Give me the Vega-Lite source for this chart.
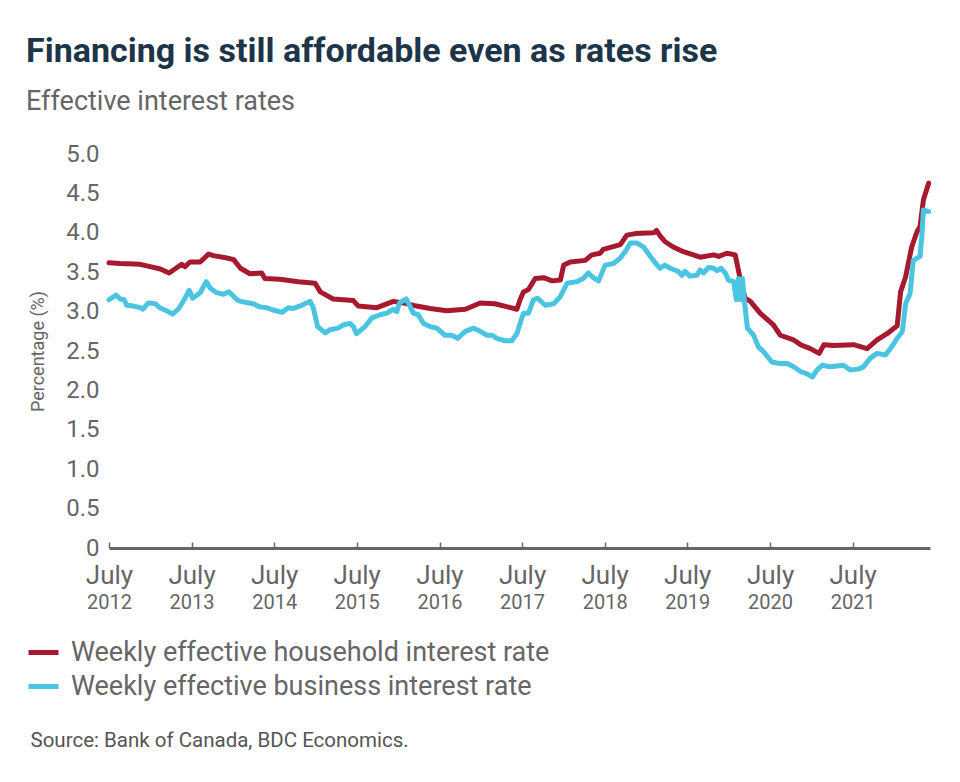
{
  "$schema": "https://vega.github.io/schema/vega-lite/v6.json",
  "width": 821,
  "height": 394,
  "autosize": {"type": "none"},
  "padding": {"left": 109, "top": 154, "right": 30, "bottom": 234},
  "background": "white",
  "config": {"view": {"stroke": null}, "font": "Roboto"},
  "title": {
    "text": "Financing is still affordable even as rates rise",
    "subtitle": "Effective interest rates",
    "anchor": "start",
    "frame": "bounds",
    "font": "Roboto",
    "fontSize": 34,
    "fontWeight": "bold",
    "color": "#1d3549",
    "subtitleFont": "Roboto",
    "subtitleFontSize": 27,
    "subtitleColor": "#666666",
    "subtitlePadding": 20,
    "offset": 27
  },
  "data": {
    "values": [
      {"date": "2012-07-01", "series": "Weekly effective household interest rate", "rate": 3.62},
      {"date": "2012-08-19", "series": "Weekly effective household interest rate", "rate": 3.61},
      {"date": "2012-11-16", "series": "Weekly effective household interest rate", "rate": 3.60},
      {"date": "2012-12-30", "series": "Weekly effective household interest rate", "rate": 3.57},
      {"date": "2013-02-13", "series": "Weekly effective household interest rate", "rate": 3.54},
      {"date": "2013-03-24", "series": "Weekly effective household interest rate", "rate": 3.49},
      {"date": "2013-05-18", "series": "Weekly effective household interest rate", "rate": 3.60},
      {"date": "2013-06-02", "series": "Weekly effective household interest rate", "rate": 3.57},
      {"date": "2013-06-24", "series": "Weekly effective household interest rate", "rate": 3.63},
      {"date": "2013-08-08", "series": "Weekly effective household interest rate", "rate": 3.63},
      {"date": "2013-09-14", "series": "Weekly effective household interest rate", "rate": 3.73},
      {"date": "2013-10-06", "series": "Weekly effective household interest rate", "rate": 3.71},
      {"date": "2013-12-04", "series": "Weekly effective household interest rate", "rate": 3.68},
      {"date": "2014-01-03", "series": "Weekly effective household interest rate", "rate": 3.66},
      {"date": "2014-02-02", "series": "Weekly effective household interest rate", "rate": 3.55},
      {"date": "2014-03-16", "series": "Weekly effective household interest rate", "rate": 3.48},
      {"date": "2014-05-07", "series": "Weekly effective household interest rate", "rate": 3.49},
      {"date": "2014-05-21", "series": "Weekly effective household interest rate", "rate": 3.42},
      {"date": "2014-07-26", "series": "Weekly effective household interest rate", "rate": 3.41},
      {"date": "2014-10-16", "series": "Weekly effective household interest rate", "rate": 3.38},
      {"date": "2014-12-29", "series": "Weekly effective household interest rate", "rate": 3.36},
      {"date": "2015-01-21", "series": "Weekly effective household interest rate", "rate": 3.25},
      {"date": "2015-03-19", "series": "Weekly effective household interest rate", "rate": 3.16},
      {"date": "2015-06-16", "series": "Weekly effective household interest rate", "rate": 3.14},
      {"date": "2015-07-08", "series": "Weekly effective household interest rate", "rate": 3.07},
      {"date": "2015-09-28", "series": "Weekly effective household interest rate", "rate": 3.05},
      {"date": "2015-12-10", "series": "Weekly effective household interest rate", "rate": 3.13},
      {"date": "2016-01-24", "series": "Weekly effective household interest rate", "rate": 3.11},
      {"date": "2016-03-22", "series": "Weekly effective household interest rate", "rate": 3.07},
      {"date": "2016-05-20", "series": "Weekly effective household interest rate", "rate": 3.04},
      {"date": "2016-08-03", "series": "Weekly effective household interest rate", "rate": 3.01},
      {"date": "2016-10-23", "series": "Weekly effective household interest rate", "rate": 3.03},
      {"date": "2016-12-28", "series": "Weekly effective household interest rate", "rate": 3.11},
      {"date": "2017-03-03", "series": "Weekly effective household interest rate", "rate": 3.10},
      {"date": "2017-06-08", "series": "Weekly effective household interest rate", "rate": 3.03},
      {"date": "2017-06-22", "series": "Weekly effective household interest rate", "rate": 3.15},
      {"date": "2017-07-07", "series": "Weekly effective household interest rate", "rate": 3.25},
      {"date": "2017-07-29", "series": "Weekly effective household interest rate", "rate": 3.28},
      {"date": "2017-08-28", "series": "Weekly effective household interest rate", "rate": 3.42},
      {"date": "2017-10-04", "series": "Weekly effective household interest rate", "rate": 3.43},
      {"date": "2017-11-11", "series": "Weekly effective household interest rate", "rate": 3.39},
      {"date": "2017-12-17", "series": "Weekly effective household interest rate", "rate": 3.40},
      {"date": "2018-01-01", "series": "Weekly effective household interest rate", "rate": 3.59},
      {"date": "2018-01-30", "series": "Weekly effective household interest rate", "rate": 3.63},
      {"date": "2018-04-06", "series": "Weekly effective household interest rate", "rate": 3.65},
      {"date": "2018-05-05", "series": "Weekly effective household interest rate", "rate": 3.72},
      {"date": "2018-06-11", "series": "Weekly effective household interest rate", "rate": 3.74},
      {"date": "2018-06-25", "series": "Weekly effective household interest rate", "rate": 3.79},
      {"date": "2018-09-08", "series": "Weekly effective household interest rate", "rate": 3.85},
      {"date": "2018-10-07", "series": "Weekly effective household interest rate", "rate": 3.97},
      {"date": "2018-11-14", "series": "Weekly effective household interest rate", "rate": 3.99},
      {"date": "2019-02-03", "series": "Weekly effective household interest rate", "rate": 4.00},
      {"date": "2019-02-15", "series": "Weekly effective household interest rate", "rate": 4.03},
      {"date": "2019-03-03", "series": "Weekly effective household interest rate", "rate": 3.96},
      {"date": "2019-03-24", "series": "Weekly effective household interest rate", "rate": 3.89},
      {"date": "2019-04-30", "series": "Weekly effective household interest rate", "rate": 3.82},
      {"date": "2019-06-14", "series": "Weekly effective household interest rate", "rate": 3.76},
      {"date": "2019-07-28", "series": "Weekly effective household interest rate", "rate": 3.72},
      {"date": "2019-08-27", "series": "Weekly effective household interest rate", "rate": 3.69},
      {"date": "2019-10-25", "series": "Weekly effective household interest rate", "rate": 3.72},
      {"date": "2019-11-17", "series": "Weekly effective household interest rate", "rate": 3.70},
      {"date": "2019-12-23", "series": "Weekly effective household interest rate", "rate": 3.74},
      {"date": "2020-01-29", "series": "Weekly effective household interest rate", "rate": 3.72},
      {"date": "2020-02-09", "series": "Weekly effective household interest rate", "rate": 3.57},
      {"date": "2020-02-21", "series": "Weekly effective household interest rate", "rate": 3.40},
      {"date": "2020-03-13", "series": "Weekly effective household interest rate", "rate": 3.17},
      {"date": "2020-04-05", "series": "Weekly effective household interest rate", "rate": 3.13},
      {"date": "2020-05-18", "series": "Weekly effective household interest rate", "rate": 2.98},
      {"date": "2020-07-16", "series": "Weekly effective household interest rate", "rate": 2.83},
      {"date": "2020-08-15", "series": "Weekly effective household interest rate", "rate": 2.70},
      {"date": "2020-10-13", "series": "Weekly effective household interest rate", "rate": 2.64},
      {"date": "2020-11-13", "series": "Weekly effective household interest rate", "rate": 2.58},
      {"date": "2020-12-26", "series": "Weekly effective household interest rate", "rate": 2.53},
      {"date": "2021-02-03", "series": "Weekly effective household interest rate", "rate": 2.47},
      {"date": "2021-02-24", "series": "Weekly effective household interest rate", "rate": 2.58},
      {"date": "2021-04-08", "series": "Weekly effective household interest rate", "rate": 2.57},
      {"date": "2021-07-05", "series": "Weekly effective household interest rate", "rate": 2.58},
      {"date": "2021-09-03", "series": "Weekly effective household interest rate", "rate": 2.53},
      {"date": "2021-10-17", "series": "Weekly effective household interest rate", "rate": 2.64},
      {"date": "2021-11-30", "series": "Weekly effective household interest rate", "rate": 2.72},
      {"date": "2022-01-14", "series": "Weekly effective household interest rate", "rate": 2.82},
      {"date": "2022-01-29", "series": "Weekly effective household interest rate", "rate": 3.25},
      {"date": "2022-02-20", "series": "Weekly effective household interest rate", "rate": 3.44},
      {"date": "2022-03-19", "series": "Weekly effective household interest rate", "rate": 3.82},
      {"date": "2022-04-11", "series": "Weekly effective household interest rate", "rate": 4.01},
      {"date": "2022-04-25", "series": "Weekly effective household interest rate", "rate": 4.08},
      {"date": "2022-05-10", "series": "Weekly effective household interest rate", "rate": 4.42},
      {"date": "2022-06-02", "series": "Weekly effective household interest rate", "rate": 4.63},
      {"date": "2012-07-01", "series": "Weekly effective business interest rate", "rate": 3.15},
      {"date": "2012-08-01", "series": "Weekly effective business interest rate", "rate": 3.21},
      {"date": "2012-08-19", "series": "Weekly effective business interest rate", "rate": 3.16},
      {"date": "2012-09-06", "series": "Weekly effective business interest rate", "rate": 3.15},
      {"date": "2012-09-18", "series": "Weekly effective business interest rate", "rate": 3.08},
      {"date": "2012-10-17", "series": "Weekly effective business interest rate", "rate": 3.07},
      {"date": "2012-11-16", "series": "Weekly effective business interest rate", "rate": 3.05},
      {"date": "2012-11-28", "series": "Weekly effective business interest rate", "rate": 3.03},
      {"date": "2012-12-22", "series": "Weekly effective business interest rate", "rate": 3.11},
      {"date": "2013-01-21", "series": "Weekly effective business interest rate", "rate": 3.10},
      {"date": "2013-02-10", "series": "Weekly effective business interest rate", "rate": 3.05},
      {"date": "2013-03-05", "series": "Weekly effective business interest rate", "rate": 3.02},
      {"date": "2013-04-09", "series": "Weekly effective business interest rate", "rate": 2.97},
      {"date": "2013-05-03", "series": "Weekly effective business interest rate", "rate": 3.03},
      {"date": "2013-05-25", "series": "Weekly effective business interest rate", "rate": 3.13},
      {"date": "2013-06-21", "series": "Weekly effective business interest rate", "rate": 3.27},
      {"date": "2013-07-06", "series": "Weekly effective business interest rate", "rate": 3.17},
      {"date": "2013-08-08", "series": "Weekly effective business interest rate", "rate": 3.24},
      {"date": "2013-09-04", "series": "Weekly effective business interest rate", "rate": 3.38},
      {"date": "2013-09-21", "series": "Weekly effective business interest rate", "rate": 3.30},
      {"date": "2013-10-20", "series": "Weekly effective business interest rate", "rate": 3.24},
      {"date": "2013-11-19", "series": "Weekly effective business interest rate", "rate": 3.22},
      {"date": "2013-12-14", "series": "Weekly effective business interest rate", "rate": 3.25},
      {"date": "2014-01-18", "series": "Weekly effective business interest rate", "rate": 3.15},
      {"date": "2014-02-02", "series": "Weekly effective business interest rate", "rate": 3.13},
      {"date": "2014-03-30", "series": "Weekly effective business interest rate", "rate": 3.10},
      {"date": "2014-04-29", "series": "Weekly effective business interest rate", "rate": 3.06},
      {"date": "2014-05-28", "series": "Weekly effective business interest rate", "rate": 3.05},
      {"date": "2014-06-27", "series": "Weekly effective business interest rate", "rate": 3.02},
      {"date": "2014-08-04", "series": "Weekly effective business interest rate", "rate": 2.99},
      {"date": "2014-09-02", "series": "Weekly effective business interest rate", "rate": 3.05},
      {"date": "2014-09-24", "series": "Weekly effective business interest rate", "rate": 3.04},
      {"date": "2014-10-31", "series": "Weekly effective business interest rate", "rate": 3.08},
      {"date": "2014-12-07", "series": "Weekly effective business interest rate", "rate": 3.13},
      {"date": "2014-12-21", "series": "Weekly effective business interest rate", "rate": 3.05},
      {"date": "2015-01-09", "series": "Weekly effective business interest rate", "rate": 2.81},
      {"date": "2015-02-12", "series": "Weekly effective business interest rate", "rate": 2.73},
      {"date": "2015-03-04", "series": "Weekly effective business interest rate", "rate": 2.77},
      {"date": "2015-04-10", "series": "Weekly effective business interest rate", "rate": 2.79},
      {"date": "2015-05-02", "series": "Weekly effective business interest rate", "rate": 2.83},
      {"date": "2015-06-01", "series": "Weekly effective business interest rate", "rate": 2.85},
      {"date": "2015-06-16", "series": "Weekly effective business interest rate", "rate": 2.81},
      {"date": "2015-06-30", "series": "Weekly effective business interest rate", "rate": 2.72},
      {"date": "2015-08-07", "series": "Weekly effective business interest rate", "rate": 2.81},
      {"date": "2015-09-06", "series": "Weekly effective business interest rate", "rate": 2.92},
      {"date": "2015-10-12", "series": "Weekly effective business interest rate", "rate": 2.96},
      {"date": "2015-11-11", "series": "Weekly effective business interest rate", "rate": 2.98},
      {"date": "2015-12-10", "series": "Weekly effective business interest rate", "rate": 3.03},
      {"date": "2015-12-25", "series": "Weekly effective business interest rate", "rate": 3.00},
      {"date": "2016-01-06", "series": "Weekly effective business interest rate", "rate": 3.11},
      {"date": "2016-02-05", "series": "Weekly effective business interest rate", "rate": 3.16},
      {"date": "2016-02-23", "series": "Weekly effective business interest rate", "rate": 3.06},
      {"date": "2016-03-07", "series": "Weekly effective business interest rate", "rate": 2.98},
      {"date": "2016-03-29", "series": "Weekly effective business interest rate", "rate": 2.96},
      {"date": "2016-04-21", "series": "Weekly effective business interest rate", "rate": 2.85},
      {"date": "2016-05-20", "series": "Weekly effective business interest rate", "rate": 2.81},
      {"date": "2016-06-19", "series": "Weekly effective business interest rate", "rate": 2.79},
      {"date": "2016-07-25", "series": "Weekly effective business interest rate", "rate": 2.70},
      {"date": "2016-08-24", "series": "Weekly effective business interest rate", "rate": 2.70},
      {"date": "2016-09-19", "series": "Weekly effective business interest rate", "rate": 2.66},
      {"date": "2016-10-23", "series": "Weekly effective business interest rate", "rate": 2.75},
      {"date": "2016-11-29", "series": "Weekly effective business interest rate", "rate": 2.79},
      {"date": "2016-12-28", "series": "Weekly effective business interest rate", "rate": 2.75},
      {"date": "2017-01-27", "series": "Weekly effective business interest rate", "rate": 2.70},
      {"date": "2017-02-19", "series": "Weekly effective business interest rate", "rate": 2.70},
      {"date": "2017-03-11", "series": "Weekly effective business interest rate", "rate": 2.66},
      {"date": "2017-04-17", "series": "Weekly effective business interest rate", "rate": 2.63},
      {"date": "2017-05-16", "series": "Weekly effective business interest rate", "rate": 2.63},
      {"date": "2017-06-08", "series": "Weekly effective business interest rate", "rate": 2.72},
      {"date": "2017-06-22", "series": "Weekly effective business interest rate", "rate": 2.85},
      {"date": "2017-07-07", "series": "Weekly effective business interest rate", "rate": 2.98},
      {"date": "2017-07-29", "series": "Weekly effective business interest rate", "rate": 2.98},
      {"date": "2017-08-20", "series": "Weekly effective business interest rate", "rate": 3.15},
      {"date": "2017-09-08", "series": "Weekly effective business interest rate", "rate": 3.17},
      {"date": "2017-10-11", "series": "Weekly effective business interest rate", "rate": 3.08},
      {"date": "2017-11-18", "series": "Weekly effective business interest rate", "rate": 3.10},
      {"date": "2017-12-17", "series": "Weekly effective business interest rate", "rate": 3.19},
      {"date": "2018-01-16", "series": "Weekly effective business interest rate", "rate": 3.36},
      {"date": "2018-02-28", "series": "Weekly effective business interest rate", "rate": 3.38},
      {"date": "2018-03-28", "series": "Weekly effective business interest rate", "rate": 3.42},
      {"date": "2018-04-20", "series": "Weekly effective business interest rate", "rate": 3.49},
      {"date": "2018-05-12", "series": "Weekly effective business interest rate", "rate": 3.43},
      {"date": "2018-06-04", "series": "Weekly effective business interest rate", "rate": 3.39},
      {"date": "2018-07-03", "series": "Weekly effective business interest rate", "rate": 3.59},
      {"date": "2018-08-09", "series": "Weekly effective business interest rate", "rate": 3.61},
      {"date": "2018-09-08", "series": "Weekly effective business interest rate", "rate": 3.68},
      {"date": "2018-10-04", "series": "Weekly effective business interest rate", "rate": 3.78},
      {"date": "2018-10-22", "series": "Weekly effective business interest rate", "rate": 3.87},
      {"date": "2018-11-21", "series": "Weekly effective business interest rate", "rate": 3.87},
      {"date": "2018-12-20", "series": "Weekly effective business interest rate", "rate": 3.82},
      {"date": "2019-01-19", "series": "Weekly effective business interest rate", "rate": 3.70},
      {"date": "2019-02-18", "series": "Weekly effective business interest rate", "rate": 3.59},
      {"date": "2019-03-03", "series": "Weekly effective business interest rate", "rate": 3.55},
      {"date": "2019-03-24", "series": "Weekly effective business interest rate", "rate": 3.59},
      {"date": "2019-04-16", "series": "Weekly effective business interest rate", "rate": 3.55},
      {"date": "2019-05-22", "series": "Weekly effective business interest rate", "rate": 3.51},
      {"date": "2019-06-07", "series": "Weekly effective business interest rate", "rate": 3.46},
      {"date": "2019-06-21", "series": "Weekly effective business interest rate", "rate": 3.51},
      {"date": "2019-07-13", "series": "Weekly effective business interest rate", "rate": 3.45},
      {"date": "2019-08-12", "series": "Weekly effective business interest rate", "rate": 3.46},
      {"date": "2019-08-27", "series": "Weekly effective business interest rate", "rate": 3.53},
      {"date": "2019-09-11", "series": "Weekly effective business interest rate", "rate": 3.49},
      {"date": "2019-10-03", "series": "Weekly effective business interest rate", "rate": 3.56},
      {"date": "2019-10-25", "series": "Weekly effective business interest rate", "rate": 3.55},
      {"date": "2019-11-10", "series": "Weekly effective business interest rate", "rate": 3.52},
      {"date": "2019-11-27", "series": "Weekly effective business interest rate", "rate": 3.55},
      {"date": "2019-12-16", "series": "Weekly effective business interest rate", "rate": 3.49},
      {"date": "2019-12-30", "series": "Weekly effective business interest rate", "rate": 3.40},
      {"date": "2020-01-22", "series": "Weekly effective business interest rate", "rate": 3.38},
      {"date": "2020-02-03", "series": "Weekly effective business interest rate", "rate": 3.15},
      {"date": "2020-02-12", "series": "Weekly effective business interest rate", "rate": 3.42},
      {"date": "2020-02-21", "series": "Weekly effective business interest rate", "rate": 3.15},
      {"date": "2020-03-01", "series": "Weekly effective business interest rate", "rate": 3.42},
      {"date": "2020-03-09", "series": "Weekly effective business interest rate", "rate": 3.15},
      {"date": "2020-03-23", "series": "Weekly effective business interest rate", "rate": 2.79},
      {"date": "2020-04-19", "series": "Weekly effective business interest rate", "rate": 2.70},
      {"date": "2020-05-11", "series": "Weekly effective business interest rate", "rate": 2.55},
      {"date": "2020-06-03", "series": "Weekly effective business interest rate", "rate": 2.49},
      {"date": "2020-07-09", "series": "Weekly effective business interest rate", "rate": 2.36},
      {"date": "2020-08-15", "series": "Weekly effective business interest rate", "rate": 2.34},
      {"date": "2020-09-15", "series": "Weekly effective business interest rate", "rate": 2.34},
      {"date": "2020-10-13", "series": "Weekly effective business interest rate", "rate": 2.30},
      {"date": "2020-11-13", "series": "Weekly effective business interest rate", "rate": 2.24},
      {"date": "2020-12-12", "series": "Weekly effective business interest rate", "rate": 2.21},
      {"date": "2021-01-04", "series": "Weekly effective business interest rate", "rate": 2.17},
      {"date": "2021-01-25", "series": "Weekly effective business interest rate", "rate": 2.26},
      {"date": "2021-02-17", "series": "Weekly effective business interest rate", "rate": 2.32},
      {"date": "2021-03-23", "series": "Weekly effective business interest rate", "rate": 2.30},
      {"date": "2021-04-22", "series": "Weekly effective business interest rate", "rate": 2.31},
      {"date": "2021-05-21", "series": "Weekly effective business interest rate", "rate": 2.32},
      {"date": "2021-06-20", "series": "Weekly effective business interest rate", "rate": 2.26},
      {"date": "2021-07-26", "series": "Weekly effective business interest rate", "rate": 2.27},
      {"date": "2021-08-18", "series": "Weekly effective business interest rate", "rate": 2.30},
      {"date": "2021-09-17", "series": "Weekly effective business interest rate", "rate": 2.41},
      {"date": "2021-10-17", "series": "Weekly effective business interest rate", "rate": 2.47},
      {"date": "2021-11-23", "series": "Weekly effective business interest rate", "rate": 2.45},
      {"date": "2021-12-15", "series": "Weekly effective business interest rate", "rate": 2.53},
      {"date": "2022-01-14", "series": "Weekly effective business interest rate", "rate": 2.66},
      {"date": "2022-02-06", "series": "Weekly effective business interest rate", "rate": 2.75},
      {"date": "2022-02-20", "series": "Weekly effective business interest rate", "rate": 3.10},
      {"date": "2022-03-12", "series": "Weekly effective business interest rate", "rate": 3.23},
      {"date": "2022-03-26", "series": "Weekly effective business interest rate", "rate": 3.65},
      {"date": "2022-04-25", "series": "Weekly effective business interest rate", "rate": 3.70},
      {"date": "2022-05-03", "series": "Weekly effective business interest rate", "rate": 3.97},
      {"date": "2022-05-10", "series": "Weekly effective business interest rate", "rate": 4.29},
      {"date": "2022-06-02", "series": "Weekly effective business interest rate", "rate": 4.27}
    ]
  },
  "layer": [
    {
      "mark": {"type": "line", "strokeWidth": 5, "strokeJoin": "round", "strokeCap": "round"},
      "encoding": {
        "x": {
          "field": "date",
          "type": "temporal",
          "scale": {"domain": [{"year": 2012, "month": 7, "date": 1}, {"year": 2022, "month": 6, "date": 8}]},
          "axis": {
            "orient": "bottom",
            "values": [
              {"year": 2012, "month": 7, "date": 1}, {"year": 2013, "month": 7, "date": 1},
              {"year": 2014, "month": 7, "date": 1}, {"year": 2015, "month": 7, "date": 1},
              {"year": 2016, "month": 7, "date": 1}, {"year": 2017, "month": 7, "date": 1},
              {"year": 2018, "month": 7, "date": 1}, {"year": 2019, "month": 7, "date": 1},
              {"year": 2020, "month": 7, "date": 1}, {"year": 2021, "month": 7, "date": 1}
            ],
            "labelExpr": "'July'",
            "labelFont": "Roboto",
            "labelFontSize": 26,
            "labelColor": "#666666",
            "labelPadding": 20,
            "labelBaseline": "top",
            "labelFlush": false,
            "labelOverlap": false,
            "domain": true,
            "domainColor": "#666666",
            "domainWidth": 3,
            "ticks": true,
            "tickColor": "#666666",
            "tickWidth": 1.5,
            "tickSize": -6,
            "grid": false,
            "title": "Source: Bank of Canada, BDC Economics.",
            "titleFont": "Roboto",
            "titleFontSize": 20.5,
            "titleFontWeight": "normal",
            "titleColor": "#555555",
            "titleAlign": "left",
            "titleBaseline": "middle",
            "titleX": -79,
            "titleY": 192
          }
        },
        "y": {
          "field": "rate",
          "type": "quantitative",
          "scale": {"domain": [0, 5], "nice": false},
          "axis": {
            "values": [0, 0.5, 1, 1.5, 2, 2.5, 3, 3.5, 4, 4.5, 5],
            "labelExpr": "datum.value == 0 ? '0' : format(datum.value, '.1f')",
            "labelFont": "Roboto",
            "labelFontSize": 24,
            "labelColor": "#666666",
            "labelPadding": 10,
            "domain": false,
            "ticks": false,
            "grid": false,
            "title": "Percentage (%)",
            "titleFont": "Roboto",
            "titleFontSize": 18,
            "titleFontWeight": "normal",
            "titleColor": "#666666",
            "titlePadding": 18
          }
        },
        "color": {
          "field": "series",
          "type": "nominal",
          "sort": ["Weekly effective household interest rate", "Weekly effective business interest rate"],
          "scale": {
            "domain": ["Weekly effective household interest rate", "Weekly effective business interest rate"],
            "range": ["#a6192e", "#4bc4e2"]
          },
          "legend": {
            "orient": "none",
            "legendX": -83,
            "legendY": 481,
            "direction": "vertical",
            "title": null,
            "symbolType": "stroke",
            "symbolSize": 900,
            "symbolStrokeWidth": 5,
            "labelFont": "Roboto",
            "labelFontSize": 27,
            "labelColor": "#666666",
            "labelOffset": 10,
            "rowPadding": 3,
            "labelLimit": 0
          }
        }
      }
    },
    {
      "mark": {"type": "point", "opacity": 0},
      "encoding": {
        "x": {
          "field": "date",
          "type": "temporal",
          "axis": {
            "orient": "bottom",
            "values": [
              {"year": 2012, "month": 7, "date": 1}, {"year": 2013, "month": 7, "date": 1},
              {"year": 2014, "month": 7, "date": 1}, {"year": 2015, "month": 7, "date": 1},
              {"year": 2016, "month": 7, "date": 1}, {"year": 2017, "month": 7, "date": 1},
              {"year": 2018, "month": 7, "date": 1}, {"year": 2019, "month": 7, "date": 1},
              {"year": 2020, "month": 7, "date": 1}, {"year": 2021, "month": 7, "date": 1}
            ],
            "format": "%Y",
            "labelFont": "Roboto",
            "labelFontSize": 20,
            "labelColor": "#666666",
            "labelPadding": 44,
            "labelBaseline": "top",
            "labelFlush": false,
            "labelOverlap": false,
            "domain": false,
            "ticks": false,
            "grid": false,
            "title": null
          }
        }
      }
    }
  ],
  "resolve": {"axis": {"x": "independent"}}
}
